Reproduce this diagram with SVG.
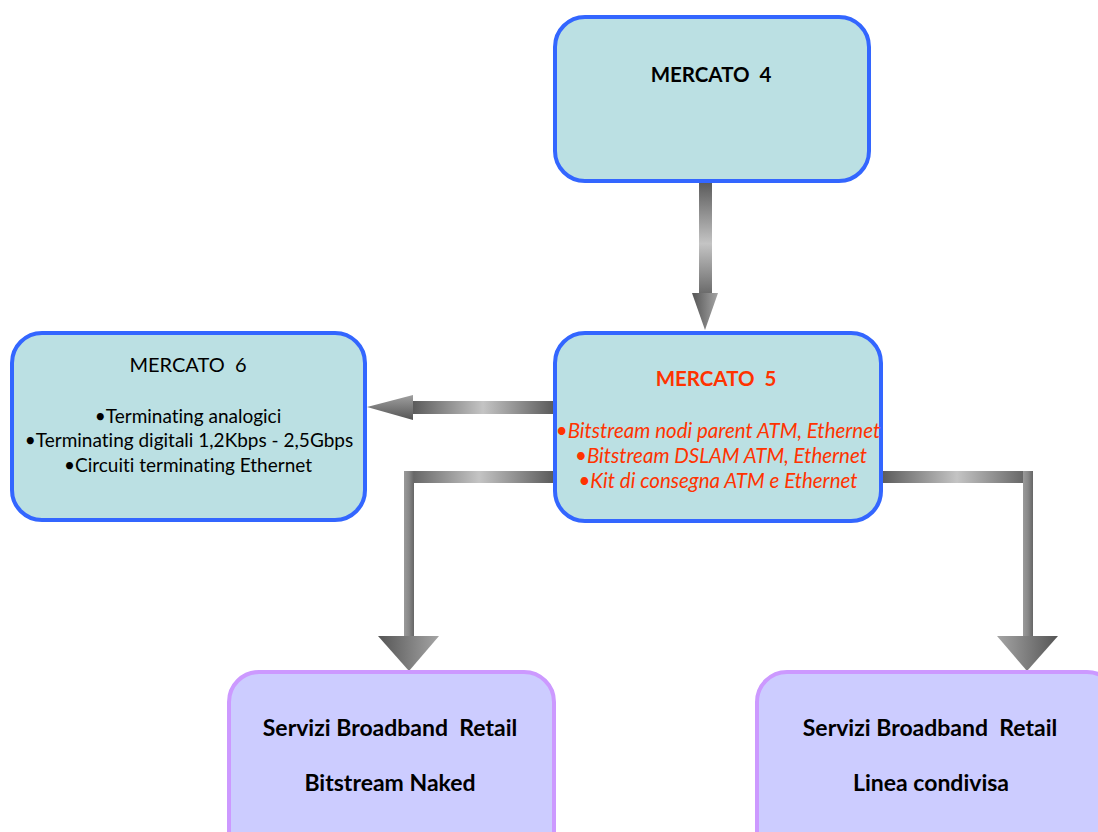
<svg xmlns="http://www.w3.org/2000/svg" width="1098" height="832" viewBox="0 0 1098 832">
<defs>
<linearGradient id="gH" x1="0" y1="0" x2="1" y2="0">
<stop offset="0" stop-color="#5a5a5a"/><stop offset="0.5" stop-color="#c4c4c4"/><stop offset="1" stop-color="#5a5a5a"/>
</linearGradient>
<linearGradient id="gV" x1="0" y1="0" x2="0" y2="1">
<stop offset="0" stop-color="#5a5a5a"/><stop offset="0.55" stop-color="#c4c4c4"/><stop offset="1" stop-color="#6a6a6a"/>
</linearGradient>
<linearGradient id="gS" x1="0" y1="0" x2="1" y2="0">
<stop offset="0" stop-color="#9a9a9a"/><stop offset="0.5" stop-color="#888"/><stop offset="1" stop-color="#666"/>
</linearGradient>
<linearGradient id="gHead" x1="0" y1="0" x2="1" y2="0">
<stop offset="0" stop-color="#555"/><stop offset="1" stop-color="#a5a5a5"/>
</linearGradient>
<linearGradient id="gHeadR" x1="0" y1="0" x2="1" y2="0">
<stop offset="0" stop-color="#a5a5a5"/><stop offset="1" stop-color="#555"/>
</linearGradient>
<linearGradient id="gHeadV" x1="0" y1="0" x2="0" y2="1">
<stop offset="0" stop-color="#a0a0a0"/><stop offset="1" stop-color="#555"/>
</linearGradient>
</defs>
<style>
.m{fill:#BBE0E3;stroke:#3366FF;stroke-width:4}
.p{fill:#CCCCFF;stroke:#CC99FF;stroke-width:4}
text{font-family:Lato,"Open Sans","Liberation Sans",sans-serif;text-anchor:middle;white-space:pre;font-variant-ligatures:none}
.b{font-weight:bold;font-size:20.5px;fill:#000}
.bb{font-weight:bold;font-size:23px;fill:#000}
.r{font-size:19px;fill:#000}
.red{fill:#FF3300}
.it{font-style:italic;font-size:20.5px}
</style>
<rect width="1098" height="832" fill="#fff"/>
<g id="connectors">
<g id="c4-5">
<rect x="699" y="182" width="13" height="112" fill="url(#gV)"/>
<polygon points="692,293 718,293 705,330" fill="url(#gHead)"/>
</g>
<g id="c5-6">
<rect x="412" y="401" width="142" height="13" fill="url(#gH)"/>
<polygon points="413,395 413,420 367,407" fill="url(#gHeadV)"/>
</g>
<g id="c5-naked">
<rect x="404" y="471" width="150" height="12" fill="url(#gH)"/>
<rect x="404" y="471" width="10" height="166" fill="url(#gS)"/>
<polygon points="378,636 439,636 409,671" fill="url(#gHead)"/>
</g>
<g id="c5-condivisa">
<rect x="881" y="471" width="152" height="12" fill="url(#gH)"/>
<rect x="1023" y="471" width="10" height="166" fill="url(#gS)"/>
<polygon points="997,636 1058,636 1027,671" fill="url(#gHeadR)"/>
</g>
</g>
<g id="mercato4">
<rect class="m" x="555" y="17" width="314" height="164" rx="30"/>
<text class="b" x="711" y="82" xml:space="preserve">MERCATO  4</text>
</g>
<g id="mercato5">
<rect class="m" x="555" y="333" width="326" height="188" rx="30"/>
<text class="b red" x="716" y="386" xml:space="preserve">MERCATO  5</text>
<text class="it red" x="718" y="438">•Bitstream nodi parent ATM, Ethernet</text>
<text class="it red" x="721" y="463">•Bitstream DSLAM ATM, Ethernet</text>
<text class="it red" x="718" y="488">•Kit di consegna ATM e Ethernet</text>
</g>
<g id="mercato6">
<rect class="m" x="12" y="333" width="353" height="187" rx="30"/>
<text class="r" x="188" y="372" style="font-size:20px" xml:space="preserve">MERCATO  6</text>
<text class="r" x="188" y="423">•Terminating analogici</text>
<text class="r" x="189" y="447">•Terminating digitali 1,2Kbps - 2,5Gbps</text>
<text class="r" x="188" y="472">•Circuiti terminating Ethernet</text>
</g>
<g id="naked">
<rect class="p" x="229" y="672" width="325" height="190" rx="30"/>
<text class="bb" x="390" y="736" xml:space="preserve">Servizi Broadband  Retail</text>
<text class="bb" x="390" y="791">Bitstream Naked</text>
</g>
<g id="condivisa">
<rect class="p" x="757" y="672" width="360" height="190" rx="30"/>
<text class="bb" x="930" y="736" xml:space="preserve">Servizi Broadband  Retail</text>
<text class="bb" x="931" y="791">Linea condivisa</text>
</g>
</svg>
